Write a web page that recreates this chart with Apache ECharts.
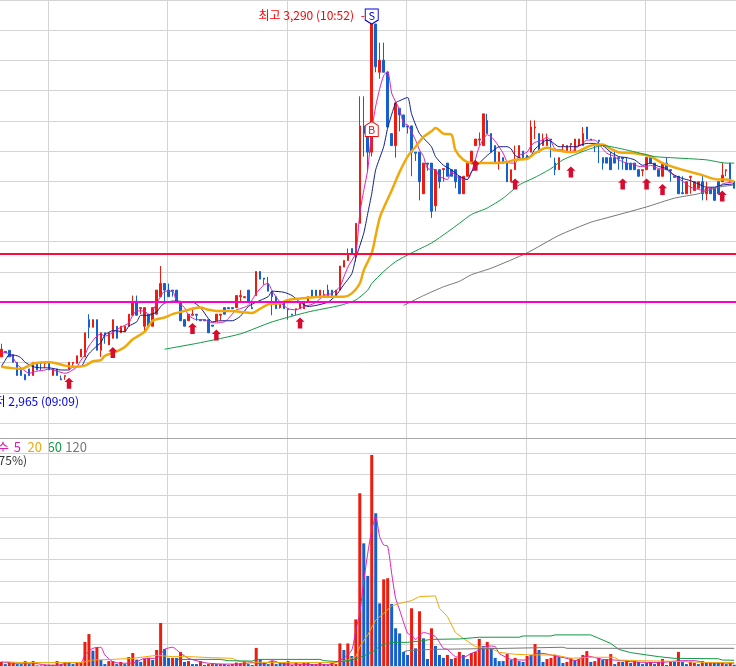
<!DOCTYPE html>
<html>
<head>
<meta charset="utf-8">
<title>chart</title>
<style>html,body{margin:0;padding:0;background:#fff}#chart{width:736px;height:667px}</style>
<script src="https://cdn.jsdelivr.net/npm/echarts@6/dist/echarts.min.js"></script>
</head>
<body>
<div id="chart"></div>
<script>
// one candle per minute
const opens = [
  2986,2991,2992,2988,2981,2975,2970,2975,2969,2981,2981,2980,2981,2969,2975,2966,2968,2975,2980,2980,
  2986,2986,3020,3013,3020,2992,3008,2997,3003,3014,3008,3009,3014,3024,3037,3030,3014,3025,3014,3025,
  3041,3053,3047,3047,3047,3036,3020,3019,3024,3025,3020,3020,3020,3015,3019,3024,3031,3031,3031,3031,
  3041,3040,3047,3031,3042,3064,3058,3053,3046,3041,3031,3036,3030,3025,3029,3030,3030,3036,3047,3047,
  3041,3042,3047,3047,3041,3047,3068,3074,3085,3080,3108,3197,3190,3173,3290,3246,3257,3246,3190,3179,
  3213,3207,3197,3197,3173,3173,3135,3163,3163,3124,3157,3157,3163,3157,3157,3151,3135,3151,3163,3179,
  3184,3179,3202,3190,3179,3163,3168,3163,3146,3157,3168,3174,3170,3173,3195,3190,3179,3179,3185,3163,
  3157,3179,3173,3180,3173,3179,3179,3196,3185,3181,3184,3168,3168,3168,3168,3168,3168,3163,3163,3163,
  3157,3156,3157,3168,3163,3157,3151,3163,3157,3151,3151,3136,3135,3150,3138,3140,3146,3135,3140,3140,
  3146,3146,3156,3163,3146
];
const closes = [
  2993,2990,2986,2981,2969,2969,2965,2969,2981,2974,2980,2981,2974,2975,2969,2965,2969,2981,2981,2987,
  2993,3008,3013,3020,2992,3008,3007,3008,3020,3003,3014,3014,3025,3036,3024,3031,3031,3014,3031,3047,
  3053,3047,3041,3046,3036,3019,3014,3025,3025,3024,3019,3019,3008,3014,3025,3025,3025,3030,3030,3042,
  3042,3041,3036,3030,3064,3057,3057,3046,3041,3030,3036,3030,3029,3024,3030,3035,3036,3041,3041,3041,
  3047,3043,3041,3041,3047,3069,3074,3080,3080,3108,3197,3190,3173,3290,3251,3257,3246,3196,3179,3218,
  3207,3196,3196,3173,3172,3146,3163,3162,3119,3157,3146,3158,3151,3151,3146,3135,3151,3163,3174,3185,
  3185,3208,3190,3173,3163,3173,3163,3146,3157,3163,3179,3168,3168,3196,3196,3173,3185,3185,3184,3157,
  3168,3180,3179,3181,3185,3185,3190,3185,3184,3180,3183,3163,3163,3157,3163,3167,3167,3157,3157,3157,
  3151,3157,3168,3163,3157,3151,3163,3157,3156,3150,3135,3135,3146,3151,3146,3146,3135,3140,3135,3129,
  3135,3152,3157,3146,3140
];
const lows = [
  2986,2990,2986,2981,2969,2969,2965,2969,2969,2974,2974,2976,2974,2969,2969,2965,2965,2975,2976,2980,
  2986,2986,3003,3013,2992,2986,2998,2997,3003,3003,3008,3009,3014,3024,3024,3025,3009,3014,3014,3025,
  3041,3037,3041,3041,3036,3019,3014,3019,3024,3019,3019,3019,3008,3014,3019,3019,3025,3030,3030,3031,
  3036,3040,3036,3030,3042,3057,3052,3046,3024,3030,3030,3030,3020,3024,3024,3030,3030,3036,3041,3041,
  3041,3041,3041,3041,3041,3047,3068,3074,3080,3073,3108,3169,3155,3169,3246,3240,3246,3196,3179,3168,
  3192,3196,3190,3151,3165,3129,3135,3156,3113,3119,3140,3146,3151,3151,3140,3135,3135,3151,3163,3179,
  3179,3179,3190,3173,3163,3157,3163,3146,3146,3157,3168,3168,3168,3173,3185,3173,3179,3179,3168,3152,
  3157,3173,3173,3173,3173,3179,3179,3185,3184,3173,3163,3157,3163,3157,3163,3157,3157,3157,3157,3157,
  3151,3151,3157,3163,3157,3151,3151,3157,3146,3150,3135,3135,3135,3135,3138,3140,3129,3129,3135,3129,
  3135,3146,3151,3146,3140
];
const highs = [
  2998,2991,2992,2988,2981,2975,2970,2975,2981,2981,2981,2981,2981,2975,2975,2969,2969,2981,2981,2987,
  2993,3008,3025,3020,3020,3008,3008,3008,3020,3014,3014,3014,3025,3042,3042,3031,3031,3025,3031,3047,
  3069,3053,3053,3047,3047,3036,3020,3025,3031,3025,3020,3020,3020,3015,3025,3025,3031,3031,3031,3042,
  3047,3041,3047,3036,3064,3064,3058,3059,3046,3041,3036,3036,3030,3025,3030,3035,3036,3041,3047,3047,
  3047,3047,3052,3047,3047,3069,3074,3085,3085,3108,3224,3224,3190,3290,3290,3273,3273,3246,3190,3218,
  3213,3207,3197,3197,3173,3173,3163,3163,3163,3157,3157,3158,3163,3157,3157,3151,3151,3163,3174,3185,
  3191,3208,3208,3190,3179,3173,3168,3163,3157,3179,3179,3174,3170,3202,3202,3190,3190,3190,3185,3168,
  3168,3180,3179,3181,3185,3185,3196,3196,3185,3181,3184,3168,3168,3173,3174,3168,3168,3168,3163,3163,
  3157,3157,3168,3168,3163,3157,3163,3168,3157,3151,3151,3151,3146,3151,3146,3146,3152,3146,3140,3140,
  3146,3163,3157,3163,3146
];
const volumes = [
  19,9,19,16,9,9,23,9,23,3,3,6,6,6,23,9,19,19,9,19,
  19,113,150,72,88,28,9,23,23,9,19,9,42,61,30,19,33,38,28,75,
  202,80,38,38,38,66,19,23,9,9,23,5,9,9,9,9,9,5,9,16,
  13,23,9,5,85,31,16,9,23,9,16,16,23,5,16,9,16,16,9,9,
  16,9,5,16,9,106,75,106,47,219,811,576,423,991,717,294,407,412,291,177,
  153,66,52,271,83,257,130,33,177,94,52,38,52,33,38,66,52,33,61,66,
  127,94,113,85,38,23,23,56,28,38,23,19,47,52,103,75,19,33,38,52,
  42,14,19,38,28,33,52,70,19,23,38,28,33,56,9,19,19,28,14,23,
  19,9,14,19,9,19,33,5,19,19,66,19,9,19,14,9,23,14,19,14,
  14,14,9,14,6
];
// 1 = red volume bar, 0 = blue
const volumeUp = [
  1,0,1,1,0,0,1,0,1,0,0,1,1,1,1,0,1,0,0,1,
  1,1,1,0,1,0,0,1,1,0,1,0,1,1,0,0,1,1,0,1,
  1,0,0,1,0,1,0,1,0,0,1,0,1,1,0,1,0,1,1,1,
  1,1,0,0,1,0,0,0,1,0,0,0,1,0,1,1,1,1,0,1,
  1,0,0,1,1,1,0,1,0,1,1,0,0,1,0,0,1,1,0,0,
  0,0,0,1,0,1,0,0,1,0,0,0,1,0,1,1,0,0,1,1,
  1,0,1,0,0,0,0,1,0,1,0,0,1,0,1,0,0,1,1,1,
  0,0,1,1,0,1,1,1,0,1,1,0,1,1,0,1,0,1,0,1,
  0,0,0,1,0,1,1,0,1,0,1,0,0,1,1,0,1,0,1,0,
  0,1,0,1,0
];
const priceMa5 = [[0,2990],[2,2989],[3,2985],[4,2979],[6,2973],[7,2971],[9,2973],[11,2974],[12,2975],[14,2973],[16,2971],[17,2972],[19,2977],[20,2983],[21,2988],[22,2996],[24,3005],[25,3007],[26,3005],[27,3006],[29,3011],[30,3013],[32,3017],[33,3024],[34,3028],[36,3028],[37,3024],[38,3028],[39,3035],[40,3041],[41,3046],[43,3046],[44,3037],[46,3031],[47,3024],[49,3020],[51,3020],[52,3018],[54,3017],[56,3018],[57,3021],[59,3029],[60,3030],[62,3033],[64,3044],[66,3052],[67,3053],[68,3046],[70,3036],[72,3030],[74,3029],[76,3032],[78,3034],[79,3036],[81,3042],[83,3044],[85,3050],[86,3059],[87,3068],[89,3081],[90,3117],[91,3138],[92,3157],[93,3193],[94,3215],[95,3231],[96,3243],[97,3247],[98,3227],[99,3219],[100,3212],[101,3199],[102,3198],[104,3184],[105,3175],[106,3169],[107,3158],[109,3157],[110,3151],[112,3148],[113,3155],[115,3149],[117,3148],[118,3154],[119,3166],[120,3178],[122,3189],[123,3187],[124,3183],[126,3172],[127,3164],[128,3163],[129,3163],[130,3170],[132,3173],[133,3179],[134,3182],[136,3184],[137,3187],[138,3183],[139,3176],[141,3175],[142,3173],[143,3173],[144,3176],[146,3181],[147,3184],[149,3184],[150,3181],[151,3176],[152,3172],[154,3169],[155,3166],[157,3163],[159,3162],[160,3160],[162,3160],[163,3161],[165,3158],[167,3157],[168,3154],[170,3149],[172,3144],[173,3141],[175,3139],[176,3138],[178,3140],[180,3141],[181,3144],[184,3146]];
const priceMa10 = [[0,2977],[1,2983],[2,2988],[4,2987],[5,2985],[6,2981],[8,2977],[10,2976],[12,2976],[15,2974],[17,2974],[18,2977],[20,2977],[21,2983],[22,2989],[24,2996],[25,2999],[26,3006],[28,3010],[31,3009],[32,3014],[34,3018],[35,3024],[37,3024],[39,3027],[40,3032],[41,3035],[43,3037],[44,3037],[47,3036],[48,3036],[50,3031],[52,3021],[53,3018],[55,3019],[58,3019],[60,3023],[62,3032],[64,3036],[67,3041],[68,3046],[71,3045],[73,3042],[75,3036],[77,3032],[79,3033],[82,3036],[84,3042],[86,3052],[88,3062],[89,3076],[91,3099],[92,3117],[93,3135],[94,3157],[96,3178],[97,3195],[99,3218],[100,3220],[102,3223],[103,3208],[105,3190],[108,3178],[109,3169],[111,3161],[113,3157],[115,3151],[117,3148],[118,3155],[120,3163],[122,3170],[123,3173],[125,3178],[127,3178],[128,3176],[129,3170],[131,3167],[133,3170],[134,3176],[137,3184],[138,3183],[140,3178],[142,3178],[144,3178],[147,3181],[149,3181],[151,3179],[153,3173],[155,3169],[157,3168],[159,3166],[161,3161],[163,3163],[165,3160],[167,3158],[169,3152],[171,3149],[173,3147],[175,3144],[177,3141],[179,3141],[181,3143],[184,3144]];
const priceMa20 = [[0,2977],[2,2976],[5,2975],[7,2978],[8,2980],[12,2981],[14,2980],[16,2978],[18,2977],[21,2978],[23,2982],[25,2983],[26,2987],[29,2991],[31,2995],[33,3002],[36,3009],[38,3019],[41,3022],[43,3025],[46,3028],[48,3030],[50,3031],[52,3029],[54,3028],[58,3028],[60,3027],[63,3026],[65,3030],[67,3034],[70,3035],[72,3038],[77,3040],[80,3041],[86,3041],[88,3044],[90,3053],[91,3065],[93,3081],[94,3097],[95,3113],[96,3122],[98,3138],[100,3155],[102,3169],[104,3178],[106,3187],[108,3192],[109,3195],[111,3190],[113,3189],[114,3175],[116,3166],[118,3163],[122,3163],[124,3163],[127,3164],[129,3166],[132,3167],[134,3172],[137,3177],[139,3175],[143,3173],[145,3174],[148,3179],[151,3180],[153,3176],[155,3173],[159,3172],[163,3169],[166,3163],[170,3158],[174,3154],[176,3152],[180,3148],[182,3148],[184,3146]];
const priceMa60 = [[41,2993],[50,2999],[60,3007],[68,3018],[77,3027],[85,3033],[89,3038],[92,3047],[93,3053],[96,3064],[99,3073],[103,3081],[108,3090],[112,3100],[115,3108],[118,3116],[122,3122],[126,3131],[130,3143],[134,3150],[138,3158],[141,3166],[147,3175],[151,3179],[157,3175],[164,3169],[168,3168],[177,3166],[182,3163],[184,3163]];
const priceMa120 = [[101,3033],[106,3042],[111,3050],[115,3055],[118,3061],[123,3067],[132,3081],[140,3097],[148,3109],[151,3112],[162,3123],[169,3131],[175,3135],[180,3141],[184,3143]];
const volMa5 = [[0,20],[3,13],[8,13],[11,5],[14,3],[17,16],[20,16],[21,52],[23,83],[25,88],[26,52],[28,20],[30,13],[33,13],[36,36],[39,36],[41,78],[43,88],[45,60],[47,36],[50,20],[52,13],[56,9],[60,9],[63,16],[66,9],[68,25],[71,9],[75,9],[79,5],[83,9],[85,28],[86,36],[88,75],[89,169],[90,250],[91,400],[92,529],[93,639],[94,701],[95,607],[96,568],[97,563],[98,435],[99,318],[100,263],[102,153],[103,146],[104,125],[106,158],[107,153],[109,138],[111,83],[112,78],[114,44],[116,41],[118,59],[120,75],[122,94],[124,91],[125,59],[128,31],[132,28],[134,59],[136,59],[139,47],[142,36],[144,25],[147,47],[151,31],[154,28],[159,19],[165,16],[171,25],[174,25],[177,16],[184,13]];
const volMa20 = [[1,20],[5,16],[14,16],[20,16],[23,28],[28,31],[33,36],[39,50],[43,44],[47,44],[53,39],[58,36],[60,20],[68,16],[80,16],[84,16],[87,28],[89,44],[90,91],[92,146],[94,216],[96,247],[98,282],[100,294],[103,307],[105,326],[109,329],[110,271],[112,232],[114,157],[116,130],[119,91],[123,83],[125,64],[129,55],[133,52],[139,52],[143,36],[148,41],[154,41],[155,28],[160,25],[169,22],[177,16],[184,16]];
const volMa60 = [[44,31],[55,31],[57,25],[63,23],[64,31],[80,31],[81,25],[85,20],[88,28],[91,47],[94,75],[95,95],[98,111],[102,111],[105,117],[108,125],[115,127],[120,135],[130,135],[131,141],[138,141],[139,146],[148,146],[150,130],[153,106],[155,78],[158,63],[162,52],[165,44],[169,36],[180,34],[181,28],[184,27]];
const volMa120 = [[101,67],[102,72],[108,78],[127,83],[141,88],[142,83],[184,83]];
const buyArrows = [[17,2967],[28,2995],[48,3017],[54,3011],[75,3022],[119,3166],[129,3149],[143,3160],[156,3149],[162,3149],[166,3144],[181,3138]];
const sellMark = [[93,3290]];
const buyMark = [[93,3201]];
const resistance = 3080;
const support = 3036;
const categories = opens.map((_, i) => String(i));

const RED = '#ee1c0e', BLUE = '#1460cf', GRID = '#d4d4d4', MAGENTA = '#e01fb4', ORANGE = '#f0a80a', GREEN = '#109a44', GRAY = '#777777', NAVY = '#10208c';
const KR = '"Noto Sans CJK KR"';

function maLine(name, data, color, width, xi, yi, smooth) {
  return { name, type: 'line', xAxisIndex: xi, yAxisIndex: yi, data, symbol: 'none', z: 4,
    smooth: smooth || false, lineStyle: { color, width }, silent: true };
}

function legendText(text, right, color) {
  return { type: 'text', x: right, y: 447, style: { text, fill: color, font: '13px ' + KR, align: 'right', verticalAlign: 'middle' } };
}

const chart = echarts.init(document.getElementById('chart'));
chart.setOption({
  animation: false,
  backgroundColor: '#fff',
  grid: [
    { left: -71.5, width: 836.5, top: 0, height: 667, outerBoundsMode: 'none' },
    { left: -0.7, width: 736.9, top: 0, height: 423, outerBoundsMode: 'none' },
    { left: -0.7, width: 736.9, top: 453, height: 213, outerBoundsMode: 'none' }
  ],
  xAxis: [
    { type: 'value', gridIndex: 0, min: 0, max: 210, interval: 30, axisLine: { show: false }, axisTick: { show: false }, axisLabel: { show: false }, splitLine: { show: true, lineStyle: { color: GRID, width: 1 } } },
    { type: 'category', gridIndex: 1, data: categories, axisLine: { show: false }, axisTick: { show: false }, axisLabel: { show: false }, splitLine: { show: false } },
    { type: 'category', gridIndex: 2, data: categories, axisLine: { show: false }, axisTick: { show: false }, axisLabel: { show: false }, splitLine: { show: false } }
  ],
  yAxis: [
    { type: 'value', gridIndex: 0, show: false, min: 0, max: 1, splitLine: { show: false } },
    { type: 'value', gridIndex: 1, min: 2925.6, max: 3312, interval: 27.6, axisLine: { show: false }, axisTick: { show: false }, axisLabel: { show: false }, splitLine: { lineStyle: { color: GRID, width: 1 } } },
    { type: 'value', gridIndex: 2, min: 0, max: 1000, interval: 100, axisLine: { show: false }, axisTick: { show: false }, axisLabel: { show: false }, splitLine: { lineStyle: { color: GRID, width: 1 } } }
  ],
  series: [
    {
      name: 'price', type: 'candlestick', xAxisIndex: 1, yAxisIndex: 1, barWidth: 2, z: 3,
      data: opens.map((o, i) => [o, closes[i], lows[i], highs[i]]),
      itemStyle: { color: RED, color0: BLUE, borderColor: RED, borderColor0: BLUE, borderWidth: 1 }
    },
    maLine('ma5', priceMa5, MAGENTA, 1, 1, 1, 0.2),
    maLine('ma10', priceMa10, NAVY, 1, 1, 1, 0.2),
    maLine('ma20', priceMa20, ORANGE, 2.5, 1, 1, 0.3),
    maLine('ma60', priceMa60, GREEN, 1, 1, 1, 0.2),
    maLine('ma120', priceMa120, GRAY, 1, 1, 1, 0.2),
    {
      name: 'levels', type: 'line', xAxisIndex: 1, yAxisIndex: 1, data: [], z: 5, symbol: 'none',
      markLine: {
        silent: true, symbol: 'none', animation: false, label: { show: false },
        data: [
          { yAxis: resistance, lineStyle: { color: '#ff0a3c', width: 2, type: 'solid' } },
          { yAxis: support, lineStyle: { color: '#ff00c8', width: 2, type: 'solid' } }
        ]
      }
    },
    {
      name: 'arrows', type: 'scatter', xAxisIndex: 1, yAxisIndex: 1, data: buyArrows, z: 6,
      symbol: 'path://M4 0 L8 4 L6 4 L6 10 L2 10 L2 4 L0 4 Z', symbolSize: [9, 11], symbolOffset: [0, '50%'],
      itemStyle: { color: '#d80a2e', opacity: 1 }
    },
    {
      name: 'S', type: 'scatter', xAxisIndex: 1, yAxisIndex: 1, data: sellMark, z: 7,
      symbol: 'path://M0 0 L12 0 L12 11 L6 15 L0 11 Z', symbolSize: [13, 15], symbolOffset: [0, '-50%'],
      itemStyle: { color: '#fff', borderColor: '#0000e0', borderWidth: 1, opacity: 1 },
      label: { show: true, position: 'inside', formatter: 'S', color: '#0000e0', fontSize: 11, fontFamily: KR, offset: [0, -1] }
    },
    {
      name: 'B', type: 'scatter', xAxisIndex: 1, yAxisIndex: 1, data: buyMark, z: 7,
      symbol: 'path://M6 0 L12 4 L12 15 L0 15 L0 4 Z', symbolSize: [13, 15], symbolOffset: [0, '50%'],
      itemStyle: { color: '#fff', borderColor: '#f01010', borderWidth: 1, opacity: 1 },
      label: { show: true, position: 'inside', formatter: 'B', color: '#f01010', fontSize: 11, fontFamily: KR, offset: [0, 1] }
    },
    {
      name: 'volume', type: 'bar', xAxisIndex: 2, yAxisIndex: 2, barWidth: 3, z: 3,
      data: volumes.map((v, i) => ({ value: v, itemStyle: { color: volumeUp[i] ? RED : BLUE } }))
    },
    maLine('vma5', volMa5, MAGENTA, 1, 2, 2, 0.2),
    maLine('vma20', volMa20, ORANGE, 1, 2, 2),
    maLine('vma60', volMa60, GREEN, 1, 2, 2),
    maLine('vma120', volMa120, GRAY, 1, 2, 2)
  ],
  graphic: [
    { type: 'line', shape: { x1: 0, y1: 438.5, x2: 736, y2: 438.5 }, style: { stroke: '#a8a8a8', lineWidth: 1 }, z: 1 },
    { type: 'text', x: 354, y: 15, z: 8, style: { text: '최고 3,290 (10:52)', fill: '#ff0000', font: '12px ' + KR, align: 'right', verticalAlign: 'middle' } },
    { type: 'text', x: 365, y: 15, z: 8, style: { text: '-', fill: '#ff0000', font: '12px ' + KR, align: 'right', verticalAlign: 'middle' } },
    { type: 'text', x: 79, y: 401, z: 8, style: { text: '최저 2,965 (09:09)', fill: '#0000ee', font: '12px ' + KR, align: 'right', verticalAlign: 'middle' } },
    legendText('순', 9, MAGENTA),
    legendText('5', 21, MAGENTA),
    legendText('20', 42, ORANGE),
    legendText('60', 62, GREEN),
    legendText('120', 87, GRAY),
    { type: 'text', x: 27, y: 460, style: { text: '75%)', fill: '#333', font: '12px ' + KR, align: 'right', verticalAlign: 'middle' } }
  ]
});
</script>
</body>
</html>
